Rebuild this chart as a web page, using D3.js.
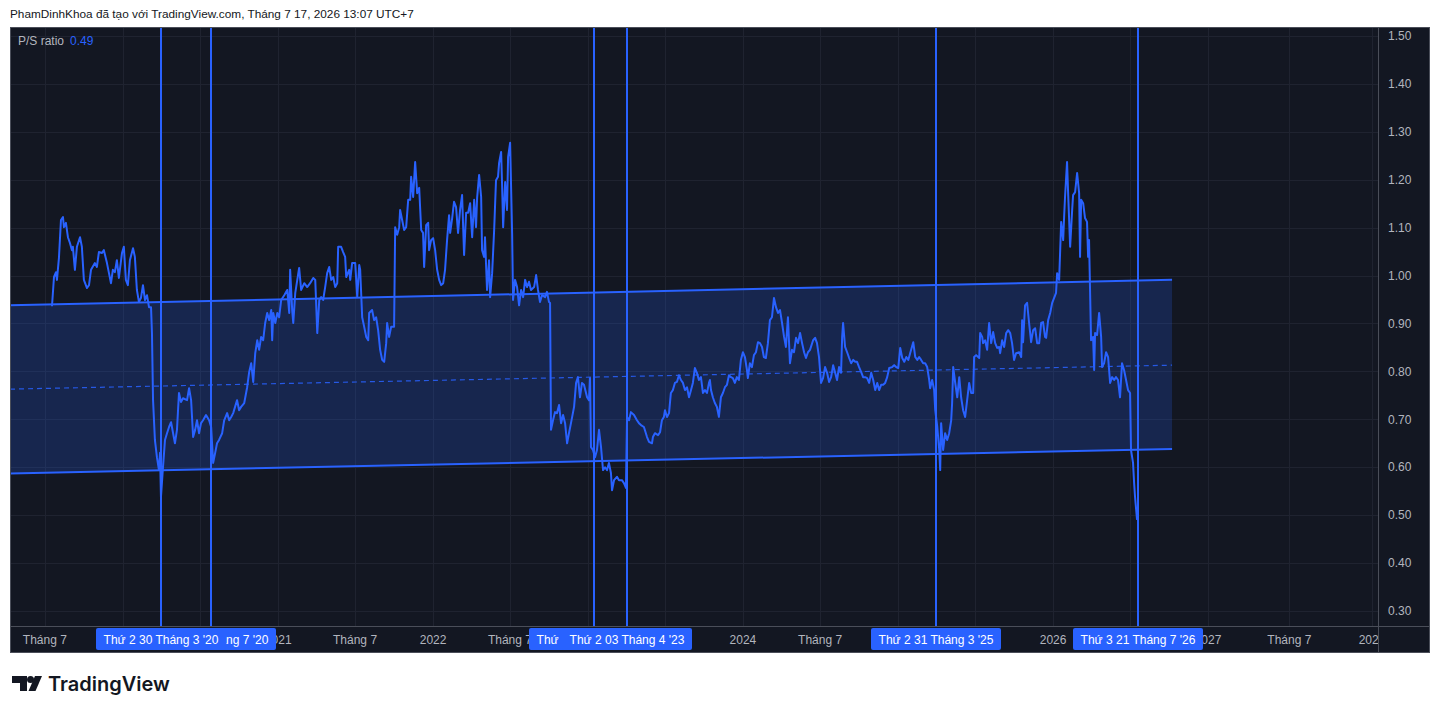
<!DOCTYPE html>
<html>
<head>
<meta charset="utf-8">
<script src="https://cdn.jsdelivr.net/npm/d3@7"></script>
<style>
  body { margin: 0; background: #ffffff; }
  svg { display: block; }
</style>
</head>
<body>
<svg id="chart" width="1440" height="714"></svg>
<script>
// P/S ratio, dates as decimal years
const dates = [
  2019.542, 2019.555, 2019.568, 2019.574, 2019.587, 2019.600, 2019.613, 2019.619, 2019.632, 2019.645,
  2019.658, 2019.671, 2019.677, 2019.690, 2019.703, 2019.723, 2019.735, 2019.748, 2019.768, 2019.781,
  2019.794, 2019.819, 2019.832, 2019.845, 2019.865, 2019.877, 2019.897, 2019.910, 2019.923, 2019.935,
  2019.948, 2019.961, 2019.974, 2019.994,
  2020.006, 2020.019, 2020.032, 2020.045, 2020.065, 2020.077, 2020.090, 2020.103, 2020.116, 2020.129,
  2020.142, 2020.155, 2020.168, 2020.181, 2020.187, 2020.194, 2020.206, 2020.219, 2020.232, 2020.239,
  2020.245, 2020.258, 2020.271, 2020.284, 2020.297, 2020.310, 2020.323, 2020.335, 2020.348, 2020.361,
  2020.374, 2020.387, 2020.413, 2020.426, 2020.439, 2020.452, 2020.465, 2020.477, 2020.490, 2020.503,
  2020.516, 2020.535, 2020.555, 2020.568, 2020.581, 2020.594, 2020.606, 2020.619, 2020.639, 2020.652,
  2020.671, 2020.684, 2020.697, 2020.710, 2020.735, 2020.748, 2020.761, 2020.781, 2020.800, 2020.813,
  2020.826, 2020.839, 2020.852, 2020.865, 2020.877, 2020.890, 2020.903, 2020.916, 2020.929, 2020.942,
  2020.955, 2020.961, 2020.968, 2020.981, 2020.994,
  2021.006, 2021.019, 2021.039, 2021.058, 2021.071, 2021.077, 2021.090, 2021.097, 2021.110, 2021.123,
  2021.135, 2021.148, 2021.168, 2021.187, 2021.206, 2021.226, 2021.239, 2021.252, 2021.265, 2021.277,
  2021.290, 2021.303, 2021.316, 2021.329, 2021.342, 2021.355, 2021.368, 2021.381, 2021.387, 2021.406,
  2021.419, 2021.432, 2021.439, 2021.458, 2021.465, 2021.477, 2021.497, 2021.510, 2021.523, 2021.529,
  2021.542, 2021.555, 2021.568, 2021.581, 2021.587, 2021.606, 2021.619, 2021.632, 2021.645, 2021.658,
  2021.671, 2021.684, 2021.697, 2021.703, 2021.716, 2021.729, 2021.748, 2021.755, 2021.768, 2021.781,
  2021.787, 2021.800, 2021.813, 2021.826, 2021.839, 2021.852, 2021.858, 2021.871, 2021.884, 2021.897,
  2021.910, 2021.923, 2021.935, 2021.942, 2021.955, 2021.968, 2021.974, 2021.987,
  2022.000, 2022.013, 2022.026, 2022.039, 2022.052, 2022.065, 2022.077, 2022.090, 2022.103, 2022.110,
  2022.123, 2022.135, 2022.148, 2022.161, 2022.174, 2022.187, 2022.200, 2022.213, 2022.226, 2022.239,
  2022.252, 2022.265, 2022.277, 2022.284, 2022.297, 2022.310, 2022.316, 2022.329, 2022.335, 2022.348,
  2022.361, 2022.368, 2022.381, 2022.394, 2022.406, 2022.419, 2022.426, 2022.439, 2022.445, 2022.452,
  2022.465, 2022.477, 2022.484, 2022.497, 2022.510, 2022.516, 2022.529, 2022.542, 2022.555, 2022.568,
  2022.581, 2022.594, 2022.606, 2022.619, 2022.632, 2022.652, 2022.665, 2022.677, 2022.690, 2022.703,
  2022.723, 2022.735, 2022.748, 2022.755, 2022.761, 2022.774, 2022.787, 2022.800, 2022.813, 2022.826,
  2022.839, 2022.852, 2022.865, 2022.877, 2022.890, 2022.910, 2022.923, 2022.935, 2022.948, 2022.961,
  2022.974, 2022.994,
  2023.006, 2023.013, 2023.019, 2023.032, 2023.045, 2023.058, 2023.071, 2023.084, 2023.097, 2023.110,
  2023.123, 2023.135, 2023.148, 2023.155, 2023.168, 2023.187, 2023.200, 2023.219, 2023.232, 2023.245,
  2023.252, 2023.265, 2023.277, 2023.297, 2023.316, 2023.329, 2023.342, 2023.361, 2023.381, 2023.394,
  2023.413, 2023.419, 2023.432, 2023.452, 2023.465, 2023.477, 2023.490, 2023.497, 2023.510, 2023.523,
  2023.535, 2023.548, 2023.561, 2023.574, 2023.587, 2023.600, 2023.613, 2023.626, 2023.639, 2023.652,
  2023.665, 2023.677, 2023.690, 2023.703, 2023.716, 2023.729, 2023.742, 2023.755, 2023.768, 2023.781,
  2023.787, 2023.794, 2023.806, 2023.819, 2023.832, 2023.845, 2023.858, 2023.871, 2023.884, 2023.897,
  2023.910, 2023.923, 2023.935, 2023.948, 2023.961, 2023.974, 2023.987,
  2024.000, 2024.013, 2024.026, 2024.032, 2024.045, 2024.058, 2024.071, 2024.084, 2024.097, 2024.110,
  2024.123, 2024.135, 2024.148, 2024.161, 2024.174, 2024.187, 2024.200, 2024.213, 2024.226, 2024.239,
  2024.252, 2024.265, 2024.277, 2024.290, 2024.303, 2024.316, 2024.329, 2024.342, 2024.355, 2024.368,
  2024.381, 2024.394, 2024.406, 2024.419, 2024.432, 2024.452, 2024.465, 2024.477, 2024.490, 2024.503,
  2024.516, 2024.529, 2024.542, 2024.555, 2024.568, 2024.581, 2024.594, 2024.606, 2024.619, 2024.632,
  2024.639, 2024.645, 2024.658, 2024.671, 2024.684, 2024.697, 2024.710, 2024.723, 2024.735, 2024.748,
  2024.761, 2024.774, 2024.787, 2024.800, 2024.813, 2024.826, 2024.839, 2024.852, 2024.865, 2024.877,
  2024.890, 2024.903, 2024.916, 2024.929, 2024.942, 2024.961, 2024.974, 2024.987,
  2025.000, 2025.013, 2025.026, 2025.039, 2025.052, 2025.065, 2025.077, 2025.097, 2025.110, 2025.123,
  2025.135, 2025.148, 2025.161, 2025.174, 2025.187, 2025.200, 2025.206, 2025.219, 2025.232, 2025.239,
  2025.252, 2025.265, 2025.271, 2025.277, 2025.290, 2025.303, 2025.316, 2025.329, 2025.342, 2025.348,
  2025.355, 2025.368, 2025.381, 2025.394, 2025.406, 2025.419, 2025.432, 2025.445, 2025.458, 2025.471,
  2025.484, 2025.490, 2025.503, 2025.523, 2025.529, 2025.542, 2025.548, 2025.561, 2025.574, 2025.587,
  2025.600, 2025.613, 2025.626, 2025.639, 2025.652, 2025.658, 2025.671, 2025.684, 2025.697, 2025.710,
  2025.723, 2025.735, 2025.748, 2025.761, 2025.781, 2025.794, 2025.800, 2025.806, 2025.819, 2025.832,
  2025.845, 2025.858, 2025.871, 2025.884, 2025.897, 2025.910, 2025.923, 2025.935, 2025.948, 2025.955,
  2025.968, 2025.981, 2025.994,
  2026.006, 2026.019, 2026.026, 2026.039, 2026.052, 2026.065, 2026.071, 2026.077, 2026.090, 2026.097,
  2026.110, 2026.123, 2026.129, 2026.142, 2026.155, 2026.168, 2026.174, 2026.181, 2026.194, 2026.206,
  2026.219, 2026.226, 2026.232, 2026.245, 2026.258, 2026.265, 2026.271, 2026.284, 2026.297, 2026.310,
  2026.316, 2026.329, 2026.342, 2026.355, 2026.368, 2026.381, 2026.394, 2026.406, 2026.419, 2026.432,
  2026.445, 2026.458, 2026.471, 2026.484, 2026.497, 2026.503, 2026.516, 2026.523, 2026.529, 2026.542
];

const psRatio = [
  0.936, 0.997, 1.007, 0.991, 1.037, 1.116, 1.122, 1.101, 1.110, 1.080,
  1.068, 1.053, 1.060, 1.012, 1.060, 1.080, 1.060, 0.991, 0.974, 0.980,
  1.012, 1.026, 1.018, 1.049, 1.047, 1.053, 1.026, 1.005, 0.984, 1.012,
  1.007, 1.032, 0.995, 1.047,
  1.060, 0.991, 0.980, 1.032, 1.057, 1.039, 0.970, 0.945, 0.953, 0.980,
  0.949, 0.959, 0.934, 0.934, 0.880, 0.740, 0.657, 0.621, 0.594, 0.630,
  0.538, 0.600, 0.657, 0.671, 0.684, 0.694, 0.671, 0.650, 0.678, 0.755,
  0.736, 0.744, 0.740, 0.765, 0.740, 0.663, 0.678, 0.698, 0.671, 0.692,
  0.698, 0.709, 0.698, 0.684, 0.609, 0.630, 0.650, 0.657, 0.671, 0.698,
  0.713, 0.698, 0.705, 0.713, 0.740, 0.719, 0.726, 0.734, 0.767, 0.799,
  0.817, 0.778, 0.838, 0.865, 0.845, 0.872, 0.865, 0.901, 0.922, 0.907,
  0.928, 0.865, 0.922, 0.901, 0.922,
  0.913, 0.949, 0.959, 0.970, 0.922, 1.012, 0.928, 0.901, 0.964, 0.991,
  1.016, 0.970, 0.984, 0.976, 0.984, 0.995, 0.991, 0.880, 0.949, 0.955,
  0.949, 0.976, 1.005, 1.018, 0.991, 0.997, 0.976, 0.984, 1.060, 1.060,
  1.049, 1.039, 0.997, 1.012, 0.991, 1.026, 1.026, 0.955, 1.022, 1.012,
  0.913, 0.893, 0.872, 0.865, 0.922, 0.928, 0.907, 0.913, 0.886, 0.845,
  0.824, 0.820, 0.859, 0.901, 0.872, 0.893, 0.893, 1.101, 1.085, 1.101,
  1.137, 1.116, 1.095, 1.101, 1.158, 1.158, 1.206, 1.164, 1.237, 1.172,
  1.183, 1.095, 1.089, 1.018, 1.105, 1.110, 1.053, 1.074,
  1.078, 1.053, 1.012, 0.991, 0.980, 0.984, 1.012, 1.074, 1.126, 1.089,
  1.120, 1.154, 1.143, 1.089, 1.137, 1.168, 1.043, 1.131, 1.131, 1.151,
  1.080, 1.158, 1.101, 1.162, 1.210, 1.164, 1.053, 1.039, 1.080, 0.970,
  1.032, 0.955, 1.005, 1.095, 1.199, 1.206, 1.235, 1.258, 1.193, 1.101,
  1.195, 1.137, 1.247, 1.277, 1.089, 0.949, 0.991, 0.976, 0.938, 0.970,
  0.955, 0.991, 0.976, 0.987, 0.970, 0.976, 1.001, 0.970, 0.945, 0.959,
  0.955, 0.966, 0.945, 0.943, 0.678, 0.698, 0.715, 0.713, 0.730, 0.692,
  0.709, 0.692, 0.650, 0.671, 0.692, 0.726, 0.776, 0.788, 0.746, 0.776,
  0.772, 0.746,
  0.740, 0.786, 0.642, 0.636, 0.621, 0.636, 0.678, 0.642, 0.594, 0.600,
  0.594, 0.609, 0.588, 0.552, 0.573, 0.580, 0.573, 0.573, 0.567, 0.557,
  0.705, 0.698, 0.715, 0.709, 0.698, 0.692, 0.688, 0.684, 0.663, 0.653,
  0.650, 0.663, 0.671, 0.667, 0.673, 0.698, 0.705, 0.719, 0.705, 0.713,
  0.755, 0.761, 0.776, 0.778, 0.792, 0.782, 0.776, 0.761, 0.767, 0.746,
  0.761, 0.776, 0.807, 0.797, 0.782, 0.788, 0.755, 0.761, 0.755, 0.776,
  0.782, 0.761, 0.746, 0.734, 0.726, 0.705, 0.746, 0.755, 0.767, 0.772,
  0.792, 0.788, 0.786, 0.776, 0.788, 0.782, 0.824,
  0.840, 0.830, 0.803, 0.786, 0.817, 0.809, 0.834, 0.840, 0.861, 0.859,
  0.851, 0.830, 0.828, 0.859, 0.907, 0.913, 0.953, 0.934, 0.922, 0.928,
  0.901, 0.872, 0.851, 0.913, 0.817, 0.845, 0.840, 0.870, 0.859, 0.880,
  0.859, 0.840, 0.828, 0.840, 0.845, 0.865, 0.870, 0.859, 0.830, 0.776,
  0.786, 0.809, 0.797, 0.778, 0.788, 0.813, 0.797, 0.782, 0.809, 0.797,
  0.872, 0.901, 0.851, 0.840, 0.828, 0.817, 0.824, 0.820, 0.820, 0.809,
  0.799, 0.788, 0.788, 0.786, 0.776, 0.797, 0.782, 0.761, 0.776, 0.761,
  0.772, 0.772, 0.776, 0.788, 0.807, 0.809, 0.813, 0.809,
  0.807, 0.849, 0.828, 0.820, 0.830, 0.824, 0.838, 0.861, 0.830, 0.824,
  0.830, 0.824, 0.817, 0.817, 0.809, 0.782, 0.765, 0.782, 0.761, 0.719,
  0.684, 0.636, 0.594, 0.692, 0.636, 0.671, 0.657, 0.671, 0.698, 0.734,
  0.809, 0.776, 0.746, 0.788, 0.746, 0.719, 0.705, 0.740, 0.776, 0.755,
  0.755, 0.830, 0.834, 0.828, 0.880, 0.872, 0.859, 0.865, 0.845, 0.901,
  0.859, 0.882, 0.859, 0.849, 0.851, 0.838, 0.865, 0.851, 0.880, 0.886,
  0.880, 0.859, 0.824, 0.838, 0.840, 0.830, 0.907, 0.861, 0.938, 0.943,
  0.901, 0.861, 0.886, 0.890, 0.859, 0.859, 0.901, 0.903, 0.872, 0.870,
  0.907, 0.922, 0.943,
  0.953, 0.964, 1.005, 0.991, 1.112, 1.074, 1.122, 1.164, 1.237, 1.172,
  1.060, 1.137, 1.168, 1.174, 1.214, 1.172, 1.039, 1.158, 1.151, 1.120,
  1.112, 1.039, 1.074, 0.865, 0.872, 0.803, 0.880, 0.876, 0.922, 0.872,
  0.809, 0.817, 0.840, 0.830, 0.776, 0.788, 0.782, 0.788, 0.782, 0.746,
  0.817, 0.803, 0.782, 0.761, 0.755, 0.636, 0.609, 0.567, 0.538, 0.490
];

const yTicks = [0.3, 0.4, 0.5, 0.6, 0.7, 0.8, 0.9, 1.0, 1.1, 1.2, 1.3, 1.4, 1.5];

// vertical markers, drawn in this order (later ones on top)
const markerDates = ['2020-07-27', '2020-03-30', '2023-01-16', '2023-04-03', '2025-03-31', '2026-07-21'];
const markerLabels = [
  "Thứ 2 27 Tháng 7 '20", "Thứ 2 30 Tháng 3 '20", "Thứ 2 16 Tháng 1 '23",
  "Thứ 2 03 Tháng 4 '23", "Thứ 2 31 Tháng 3 '25", "Thứ 3 21 Tháng 7 '26"
];

// regression channel end points
const channelDates = [2019.271, 2026.768];
const channelUpper = [0.938, 0.991];
const channelMid = [0.763, 0.813];
const channelLower = [0.587, 0.638];

// time axis: visible start, then the future part is spaced a bit wider
const viewBreaks = [2019.271, 2027.0, 2028.0];
const lastValue = 0.49;

const COLORS = {
  bg: '#131722',
  grid: '#1f2330',
  blue: '#2962ff',
  fill: 'rgba(41, 98, 255, 0.2)',
  axisText: '#b2b5be',
  border: '#4a4e59'
};
const FONT = '"Liberation Sans", Arial, sans-serif';

function yearToDate(t) {
  const y = Math.floor(t);
  const s = Date.UTC(y, 0, 1), e = Date.UTC(y + 1, 0, 1);
  return new Date(s + (t - y) * (e - s));
}

const pane = { left: 10, right: 1378, top: 27, bottom: 626 };
const outer = { right: 1430, bottom: 653 };

const svg = d3.select('#chart');

const x = d3.scaleUtc()
  .domain(viewBreaks.map(yearToDate))
  .range([pane.left, 1208, 1372]);

const y = d3.scaleLinear()
  .domain([0.2687, 1.5187])
  .range([pane.bottom, pane.top]);

// header
svg.append('text')
  .attr('x', 10).attr('y', 18)
  .style('font-family', FONT).style('font-size', '11.8px')
  .style('fill', '#131722')
  .text('PhamDinhKhoa đã tạo với TradingView.com, Tháng 7 17, 2026 13:07 UTC+7');

// background of whole chart block
svg.append('rect')
  .attr('x', pane.left).attr('y', pane.top)
  .attr('width', outer.right - pane.left).attr('height', outer.bottom - pane.top)
  .style('fill', COLORS.bg);

const defs = svg.append('defs');
defs.append('clipPath').attr('id', 'pane-clip')
  .append('rect')
  .attr('x', pane.left).attr('y', pane.top)
  .attr('width', pane.right - pane.left).attr('height', pane.bottom - pane.top);
defs.append('clipPath').attr('id', 'time-clip')
  .append('rect')
  .attr('x', pane.left).attr('y', pane.bottom)
  .attr('width', pane.right - pane.left).attr('height', outer.bottom - pane.bottom);

const plot = svg.append('g').attr('clip-path', 'url(#pane-clip)');

// grid
const xTicks = d3.utcMonth.every(6).range(yearToDate(viewBreaks[0]), yearToDate(2028.5));
plot.append('g').selectAll('line').data(xTicks).join('line')
  .attr('x1', d => Math.round(x(d)) + 0.5).attr('x2', d => Math.round(x(d)) + 0.5)
  .attr('y1', pane.top).attr('y2', pane.bottom)
  .style('stroke', COLORS.grid).style('stroke-width', 1);

plot.append('g').selectAll('line').data(yTicks).join('line')
  .attr('x1', pane.left).attr('x2', pane.right)
  .attr('y1', d => Math.round(y(d)) + 0.5).attr('y2', d => Math.round(y(d)) + 0.5)
  .style('stroke', COLORS.grid).style('stroke-width', 1);

// regression channel
const cx0 = x(yearToDate(channelDates[0]));
const cx1 = x(yearToDate(channelDates[1]));
const channelPoly = [
  [cx0, y(channelUpper[0])], [cx1, y(channelUpper[1])],
  [cx1, y(channelLower[1])], [cx0, y(channelLower[0])]
];
plot.append('polygon')
  .attr('points', channelPoly.map(p => p.join(',')).join(' '))
  .style('fill', COLORS.fill);

// P/S ratio line
const series = dates.map((d, i) => ({ date: yearToDate(d), value: psRatio[i] }));
const line = d3.line().x(d => x(d.date)).y(d => y(d.value));
plot.append('path')
  .datum(series)
  .attr('d', line)
  .style('fill', 'none')
  .style('stroke', COLORS.blue)
  .style('stroke-width', 2)
  .style('stroke-linejoin', 'round');

[channelUpper, channelLower].forEach(vals => {
  plot.append('line')
    .attr('x1', cx0).attr('y1', y(vals[0]))
    .attr('x2', cx1).attr('y2', y(vals[1]))
    .style('stroke', COLORS.blue).style('stroke-width', 2);
});
plot.append('line')
  .attr('x1', cx0).attr('y1', y(channelMid[0]))
  .attr('x2', cx1).attr('y2', y(channelMid[1]))
  .style('stroke', COLORS.blue).style('stroke-width', 1.2)
  .style('stroke-dasharray', '5,4').style('opacity', 0.85);

// vertical markers
const parseDay = d3.utcParse('%Y-%m-%d');
const markerX = markerDates.map(d => Math.round(x(parseDay(d))));
plot.append('g').selectAll('line').data(markerX).join('line')
  .attr('x1', d => d).attr('x2', d => d)
  .attr('y1', pane.top).attr('y2', pane.bottom)
  .style('stroke', COLORS.blue).style('stroke-width', 2);

// legend
const legend = svg.append('text')
  .attr('x', 18).attr('y', 45)
  .style('font-family', FONT).style('font-size', '12px');
legend.append('tspan').style('fill', COLORS.axisText).text('P/S ratio');
legend.append('tspan').attr('dx', 6).style('fill', COLORS.blue).text(d3.format('.2f')(lastValue));

// separators
svg.append('line')
  .attr('x1', pane.right + 0.5).attr('x2', pane.right + 0.5)
  .attr('y1', pane.top).attr('y2', outer.bottom)
  .style('stroke', COLORS.border);
svg.append('line')
  .attr('x1', pane.left).attr('x2', outer.right)
  .attr('y1', pane.bottom + 0.5).attr('y2', pane.bottom + 0.5)
  .style('stroke', COLORS.border);

// right price axis
svg.append('g').selectAll('text').data(yTicks).join('text')
  .attr('x', 1388).attr('y', d => y(d))
  .attr('dy', '0.35em')
  .style('font-family', FONT).style('font-size', '12px')
  .style('fill', COLORS.axisText)
  .text(d => d3.format('.2f')(d));

// time axis labels (ones fully hidden behind a date badge are skipped)
const badgeHalf = 65;
const timeAxis = svg.append('g').attr('clip-path', 'url(#time-clip)');
timeAxis.selectAll('text').data(xTicks).join('text')
  .attr('x', d => x(d)).attr('y', 644)
  .attr('text-anchor', 'middle')
  .style('font-family', FONT).style('font-size', '12px')
  .style('fill', COLORS.axisText)
  .text(d => d.getUTCMonth() === 0 ? d.getUTCFullYear() : 'Tháng 7')
  .each(function (d) {
    const w = this.getComputedTextLength();
    const a = x(d) - w / 2, b = x(d) + w / 2;
    const hidden = markerX.some(m => a >= m - badgeHalf && b <= m + badgeHalf);
    if (hidden) d3.select(this).remove();
  });

// marker date badges
const badges = timeAxis.selectAll('g.badge').data(markerX).join('g')
  .attr('class', 'badge')
  .attr('transform', d => `translate(${d},0)`);
badges.append('rect')
  .attr('x', -badgeHalf).attr('y', pane.bottom + 2)
  .attr('width', badgeHalf * 2).attr('height', 22).attr('rx', 2)
  .style('fill', COLORS.blue);
badges.append('text')
  .attr('y', 644).attr('text-anchor', 'middle')
  .style('font-family', FONT).style('font-size', '12px')
  .style('fill', '#ffffff')
  .text((d, i) => markerLabels[i]);

// outer border
svg.append('rect')
  .attr('x', pane.left + 0.5).attr('y', pane.top + 0.5)
  .attr('width', outer.right - pane.left - 1).attr('height', outer.bottom - pane.top - 1)
  .style('fill', 'none').style('stroke', COLORS.border);

// TradingView logo
const logo = svg.append('g').style('fill', '#131722');
logo.append('path').attr('d', 'M12,676 H27 V691 H20 V683 H12 Z');
logo.append('circle').attr('cx', 30.5).attr('cy', 679.5).attr('r', 3.5);
logo.append('path').attr('d', 'M35,676 H42 L35.5,691 H28.5 Z');
svg.append('text')
  .attr('x', 48).attr('y', 691)
  .style('font-family', 'Inter, "Noto Sans", sans-serif')
  .style('font-size', '20px').style('font-weight', 600)
  .style('fill', '#131722')
  .text('TradingView');
</script>
</body>
</html>
